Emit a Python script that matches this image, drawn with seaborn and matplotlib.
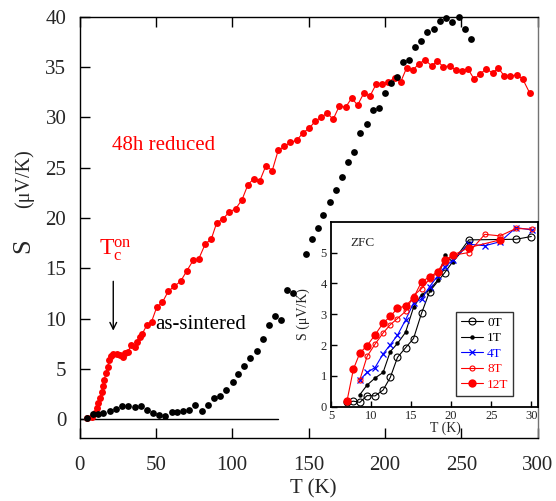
import numpy as np
import pandas as pd
import matplotlib
matplotlib.use("Agg")
import matplotlib.pyplot as plt
import seaborn as sns

# Thermopower S(T): 48h-reduced sample (line + markers)
reduced_T = [4.6, 7.9, 10.1, 11.2, 12.3, 13.4, 14.5, 15.1, 16.2, 17.3, 18.4, 19.5, 20.6,
             22.1, 24.3, 26.5, 28.6, 29.7, 31.9, 33.7, 36.3, 37.8, 39.6, 41.1, 44.3, 47.2,
             50.5, 54.2, 58.1, 62.0, 66.2, 70.1, 74.5, 78.0, 82.3, 86.3, 89.8, 94.0, 98.1,
             102.2, 106.4, 110.3, 114.2, 118.1, 122.1, 126.2, 130.1, 134.1, 138.0, 142.2,
             146.4, 150.3, 154.4, 158.3, 162.2, 166.1, 170.1, 174.3, 178.2, 182.1, 186.2,
             190.2, 194.3, 198.2, 202.2, 206.3, 210.3, 214.2, 218.3, 222.3, 226.2, 230.6,
             234.3, 238.2, 242.4, 246.3, 250.2, 254.4, 258.3, 262.4, 266.3, 270.5, 274.2,
             278.1, 282.1, 286.4, 290.2, 294.8]
reduced_S = [0.1, 0.26, 0.6, 1.1, 1.6, 2.1, 2.7, 3.3, 3.9, 4.6, 5.2, 5.9, 6.3,
             6.5, 6.5, 6.4, 6.2, 6.55, 6.7, 7.4, 7.2, 7.7, 8.2, 8.5, 9.4, 9.7,
             11.1, 11.6, 12.7, 13.2, 13.7, 14.7, 15.8, 15.9, 17.4, 17.9, 19.5, 19.9, 20.6,
             20.9, 21.8, 23.3, 23.9, 23.7, 25.2, 24.7, 26.7, 27.1, 27.5, 27.7,
             28.45, 28.9, 29.6, 30.0, 30.4, 29.8, 31.1, 31.0, 31.9, 31.2, 32.4,
             32.1, 33.3, 33.3, 33.5, 33.9, 33.5, 34.9, 34.7, 35.3, 35.7, 35.1,
             35.6, 35.0, 35.1, 34.7, 34.6, 34.8, 33.8, 34.3, 34.8, 34.4, 34.9,
             34.1, 34.1, 34.2, 33.8, 32.4]

# As-sintered sample (markers only)
sintered_T = [4.6, 9.0, 12.3, 15.5, 19.9, 23.8, 27.6, 31.9, 36.3, 40.2, 43.9, 48.3, 52.0,
              56.1, 60.3, 64.0, 67.9, 71.8, 75.8, 80.0, 83.9, 87.8, 91.9, 95.7, 100.3,
              103.9, 107.9, 111.8, 116.0, 119.9, 124.0, 128.0, 131.9, 135.8, 139.8, 148.1,
              152.2, 155.9, 159.6, 164.0, 167.9, 171.8, 176.0, 179.7, 183.6, 188.0, 191.9,
              196.1, 200.0, 203.7, 208.1, 212.0, 215.9, 219.9, 223.8, 227.7, 232.1, 236.0,
              239.9, 243.9, 248.3, 252.2, 256.1]
sintered_S = [0.1, 0.5, 0.56, 0.66, 0.86, 1.0, 1.3, 1.3, 1.25, 1.35, 0.92, 0.66, 0.43,
              0.36, 0.7, 0.76, 0.86, 0.92, 1.4, 0.86, 1.45, 2.15, 2.35, 2.9, 3.7,
              4.5, 5.3, 6.05, 6.8, 8.0, 9.4, 10.3, 9.9, 12.8, 12.5, 16.4,
              17.9, 19.0, 20.3, 21.6, 22.8, 24.1, 25.6, 26.5, 28.4, 29.3, 30.7,
              30.9, 32.4, 33.4, 34.0, 35.5, 35.7, 37.0, 37.6, 38.5, 38.8, 39.6,
              39.9, 39.5, 40.0, 38.8, 37.8]

# Low-temperature ZFC data in magnetic field
zfc_0T_T = [7.0, 7.8, 8.6, 9.5, 10.5, 11.5, 12.4, 13.3, 14.3, 15.3, 16.3, 17.3, 19.2, 22.2, 28.1, 30.0]
zfc_0T_S = [0.14, 0.18, 0.14, 0.36, 0.35, 0.54, 0.95, 1.6, 1.91, 2.21, 3.03, 3.73, 4.35, 5.41, 5.43, 5.52]
zfc_1T_T = [8.6, 9.5, 10.5, 11.5, 12.4, 13.3, 14.3, 15.3, 16.3, 17.3, 18.3, 19.2, 20.2, 22.2]
zfc_1T_S = [0.39, 0.70, 0.93, 1.11, 1.79, 2.05, 2.41, 3.22, 3.63, 3.79, 4.10, 4.91, 4.70, 5.30]
zfc_4T_T = [8.6, 9.5, 10.5, 11.5, 12.4, 13.3, 14.3, 15.3, 16.3, 17.3, 18.3, 19.2, 20.2, 22.2, 24.2, 26.1, 28.1, 30.1]
zfc_4T_S = [0.87, 1.11, 1.27, 1.71, 2.01, 2.32, 2.81, 3.36, 3.49, 3.89, 4.24, 4.54, 4.75, 5.27, 5.22, 5.35, 5.81, 5.73]
zfc_8T_T = [8.6, 9.5, 10.5, 11.5, 12.4, 13.3, 14.3, 15.3, 16.3, 17.3, 18.3, 19.2, 20.2, 22.2, 24.2, 26.1, 28.1, 30.1]
zfc_8T_S = [0.87, 1.63, 2.03, 2.39, 2.66, 2.86, 3.09, 3.60, 3.83, 4.14, 4.35, 4.68, 4.91, 5.00, 5.59, 5.54, 5.78, 5.76]
zfc_12T_T = [7.0, 7.8, 8.6, 9.5, 10.5, 11.5, 12.4, 13.3, 14.3, 15.3, 16.3, 17.3, 18.3, 19.2, 20.2, 22.2, 26.1]
zfc_12T_S = [0.19, 1.22, 1.74, 1.98, 2.33, 2.71, 2.93, 3.19, 3.27, 3.53, 4.05, 4.21, 4.37, 4.75, 4.91, 5.16, 5.41]

main_xticks = [0, 50, 100, 150, 200, 250, 300]
main_yticks = [0, 5, 10, 15, 20, 25, 30, 35, 40]
inset_xticks = [5, 10, 15, 20, 25, 30]
inset_yticks = [0, 1, 2, 3, 4, 5]

sns.set_theme(style="white")
plt.rcParams["font.family"] = ["Liberation Serif", "DejaVu Serif"]
plt.rcParams["mathtext.fontset"] = "custom"
plt.rcParams["mathtext.rm"] = "Liberation Serif"
plt.rcParams["mathtext.it"] = "Liberation Serif:italic"

RED = "#ff0000"
BLUE = "#0000ff"

fig = plt.figure(figsize=(5.56, 5.01), dpi=100)
ax = fig.add_axes([0.143, 0.125, 0.824, 0.842])

red_df = pd.DataFrame({"T": reduced_T, "S": reduced_S})
blk_df = pd.DataFrame({"T": sintered_T, "S": sintered_S})

sns.lineplot(data=red_df, x="T", y="S", ax=ax, color=RED, lw=0.8, marker="o",
             markersize=5, markeredgewidth=0, sort=False, estimator=None, zorder=3)
sns.scatterplot(data=blk_df, x="T", y="S", ax=ax, color="black", s=24, linewidth=0,
                zorder=3, clip_on=False)

ax.plot([0, 130], [0, 0], color="black", lw=1.0, zorder=2)

ax.set_xlim(0, 300)
ax.set_ylim(-1.9, 40)
ax.set_xticks(main_xticks)
ax.set_yticks(main_yticks)
ax.tick_params(axis="x", direction="in", length=7, width=1, color="black",
               labelsize=15, pad=13, top=True, bottom=True)
ax.tick_params(axis="y", direction="in", length=7, width=1, color="black",
               labelsize=15, pad=9.5, left=True, right=False)
for side in ["left", "bottom", "top"]:
    ax.spines[side].set_color("black")
    ax.spines[side].set_linewidth(1.0)
ax.spines["right"].set_color("0.45")
ax.spines["right"].set_linewidth(1.0)

ax.set_xlabel("T (K)", fontsize=15)
ax.xaxis.set_label_coords(0.51, -0.097)
ax.set_ylabel("")
fig.text(23 / 556, 1 - 246 / 501, "S", rotation=90, fontsize=19,
         ha="center", va="center")
fig.text(24 / 556, 1 - 179 / 501, "(\u03bcV/K)", rotation=90, fontsize=14.5,
         ha="center", va="center")

ax.text(21.0, 26.7, "48h reduced", color=RED, fontsize=15, ha="left", va="baseline")
ax.text(49.4, 9.0, "as-sintered", color="black", fontsize=15, ha="left", va="baseline")
ax.text(12.7, 16.3, r"$\mathregular{T_c^{on}}$", color=RED, fontsize=17,
        ha="left", va="baseline")
ax.annotate("", xy=(22.1, 8.8), xytext=(22.1, 13.7),
            arrowprops=dict(arrowstyle="->", color="black", lw=1.0,
                            mutation_scale=12, shrinkA=0, shrinkB=0))

# Inset: low-temperature ZFC curves
axi = fig.add_axes([331 / 556, 1 - 406.7 / 501, (537.7 - 331) / 556, (406.7 - 221.7) / 501])
axi.set_facecolor("white")

series = [
    ("0T", zfc_0T_T, zfc_0T_S, "black", dict(marker="o", markersize=5, mfc="none", mec="black", mew=0.8)),
    ("1T", zfc_1T_T, zfc_1T_S, "black", dict(marker="o", markersize=3.2, mfc="black", mec="black", mew=0)),
    ("4T", zfc_4T_T, zfc_4T_S, BLUE, dict(marker="x", markersize=4, mec=BLUE, mew=0.9)),
    ("8T", zfc_8T_T, zfc_8T_S, RED, dict(marker="o", markersize=3.6, mfc="none", mec=RED, mew=0.8)),
    ("12T", zfc_12T_T, zfc_12T_S, RED, dict(marker="o", markersize=6, mfc=RED, mec=RED, mew=0)),
]
for label, tx, sy, col, mk in series:
    sns.lineplot(x=tx, y=sy, ax=axi, color=col, lw=0.8, sort=False, estimator=None,
                 label=label, **mk)

axi.set_xlim(5, 30.8)
axi.set_ylim(0, 6)
axi.set_xticks(inset_xticks)
axi.set_yticks(inset_yticks)
axi.tick_params(axis="both", direction="in", length=4, width=1, color="black",
                labelsize=9, pad=3)
axi.tick_params(axis="x", top=False, bottom=True, pad=2.5)
axi.tick_params(axis="y", left=True, right=False)
for side in axi.spines.values():
    side.set_color("black")
    side.set_linewidth(1.3)
axi.set_xlabel("T (K)", fontsize=10)
axi.xaxis.set_label_coords(0.556, -0.082)
axi.set_ylabel("S (\u03bcV/K)", fontsize=10)
axi.yaxis.set_label_coords(-0.10, 0.5)
axi.text(7.4, 5.2, "ZFC", fontsize=9.5, ha="left", va="baseline")

leg = axi.legend(loc="lower left", bbox_to_anchor=(0.605, 0.06), fontsize=9.5,
                 frameon=True, fancybox=False, handlelength=1.7, handletextpad=0.3,
                 borderpad=0.35, labelspacing=0.25, borderaxespad=0)
leg.get_frame().set_edgecolor("black")
leg.get_frame().set_linewidth(1.0)
for txt, (_, _, _, col, _) in zip(leg.get_texts(), series):
    txt.set_color(col)

fig.savefig("out.png", dpi=100)
